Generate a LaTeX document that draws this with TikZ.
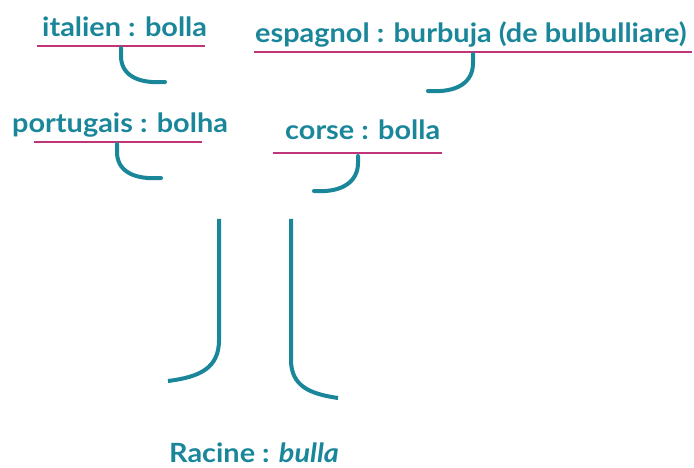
\documentclass[tikz,border=0pt]{standalone}
\usepackage{fontspec}
\setmainfont{Lato}[UprightFont=* Bold, ItalicFont=* Bold Italic, BoldFont=* Black]
\definecolor{teal1}{HTML}{1A869A}
\definecolor{mag}{HTML}{C0357A}
\newcommand{\wl}[1]{\scalebox{1.09}[1]{#1}}
\begin{document}
\begin{tikzpicture}[x=1pt,y=-1pt,
  lbl/.style={anchor=base west,inner sep=0pt,text=teal1,font=\fontsize{26.5}{30}\selectfont},
  uline/.style={draw=mag,line width=2.2pt},
  hook/.style={draw=teal1,line width=4pt,line cap=round}]
\useasboundingbox (0,0) rectangle (694,468);
\node[lbl] (it) at (42,37) {\wl{italien : bolla}};
\node[lbl] (es) at (255,43) {\wl{espagnol : burbuja (de bulbulliare)}};
\node[lbl] (pt) at (12,133) {\wl{portugais : bolha}};
\node[lbl] (co) at (285,140) {\wl{corse : bolla}};
\node[lbl] (ra) at (169,462) {\wl{Racine : \textit{bulla}}};
% underlines
\draw[uline] (37,46) -- (205,46);
\draw[uline] (254,52) -- (692,52);
\draw[uline] (34,142) -- (202,142);
\draw[uline] (273,153) -- (442,153);
% hooks
\draw[hook] (121,48) -- (121,56) .. controls (121,74) and (136,84) .. (165,82);
\draw[hook] (473,54) -- (473,63) .. controls (473,82) and (458,93) .. (428,91);
\draw[hook] (117,144) -- (117,152) .. controls (117,170) and (132,180) .. (161,178);
\draw[hook] (358,156) -- (358,163) .. controls (358,181) and (343,193) .. (314,191);
% root lines
\draw[hook,line cap=butt] (219,219) -- (219,340) .. controls (219,368) and (200,377) .. (168,381);
\draw[hook,line cap=butt] (291,219) -- (291,360) .. controls (291,386) and (310,394) .. (338,398);
\end{tikzpicture}
\end{document}
